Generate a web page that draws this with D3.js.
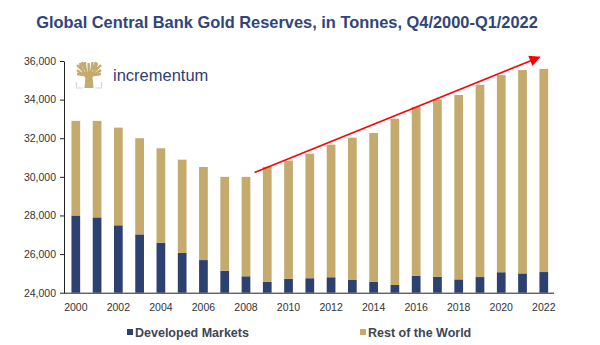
<!DOCTYPE html>
<html>
<head>
<meta charset="utf-8">
<script src="https://cdn.jsdelivr.net/npm/d3@7"></script>
<style>
  body { margin: 0; background: #fff; }
  svg { display: block; font-family: "Liberation Sans", Arial, sans-serif; }
</style>
</head>
<body>
<div id="chart"></div>
<script>
// data (tonnes)
const years = ["2000", "2001", "2002", "2003", "2004", "2005", "2006", "2007", "2008", "2009", "2010",
  "2011", "2012", "2013", "2014", "2015", "2016", "2017", "2018", "2019", "2020", "2021", "2022"];
const developed = [28000, 27900, 27490, 27020, 26590, 26060, 25690, 25140, 24850, 24570, 24720,
  24750, 24800, 24660, 24570, 24400, 24870, 24830, 24690, 24810, 25060, 25000, 25070];
const restOfWorld = [4900, 5000, 5060, 4980, 4890, 4830, 4820, 4860, 5150, 5950, 6120,
  6450, 6870, 7370, 7700, 8610, 8750, 9170, 9550, 9960, 10210, 10530, 10520];
const yTicks = [24000, 26000, 28000, 30000, 32000, 34000, 36000];
const xLabels = ["2000", "2002", "2004", "2006", "2008", "2010", "2012", "2014", "2016", "2018", "2020", "2022"];
const seriesNames = ["Developed Markets", "Rest of the World"];
// trend arrow: [year position, tonnes]
const arrowFrom = [2008.4, 30220];
const arrowTo = [2021.8, 36200];

const width = 600, height = 345;
const navy = "#2d4170", gold = "#c4aa6c";

const svg = d3.select("#chart").append("svg")
  .attr("width", width)
  .attr("height", height);

// scales
const x = d3.scaleBand()
  .domain(years)
  .range([64, 555.6])
  .paddingInner(0.59)
  .paddingOuter(0.35);

const y = d3.scaleLinear()
  .domain([24000, 36000])
  .range([292.7, 61]);

const xc = d3.scaleLinear()
  .domain([2000, 2022])
  .range([x("2000") + x.bandwidth() / 2, x("2022") + x.bandwidth() / 2]);

// title
svg.append("text")
  .attr("x", 287)
  .attr("y", 28)
  .attr("text-anchor", "middle")
  .attr("fill", "#31457a")
  .style("font-size", "16.4px")
  .style("font-weight", "bold")
  .text("Global Central Bank Gold Reserves, in Tonnes, Q4/2000-Q1/2022");

// bars
const rows = years.map((yr, i) => ({ year: yr, dev: developed[i], rest: restOfWorld[i] }));

svg.append("g").selectAll("rect.dev")
  .data(rows)
  .join("rect")
  .attr("x", d => x(d.year))
  .attr("width", x.bandwidth())
  .attr("y", d => y(d.dev))
  .attr("height", d => y(24000) - y(d.dev))
  .attr("fill", navy);

svg.append("g").selectAll("rect.rest")
  .data(rows)
  .join("rect")
  .attr("x", d => x(d.year))
  .attr("width", x.bandwidth())
  .attr("y", d => y(d.dev + d.rest))
  .attr("height", d => y(d.dev) - y(d.dev + d.rest))
  .attr("fill", gold);

// axes
const yAxis = svg.append("g")
  .attr("transform", "translate(64,0)")
  .call(d3.axisLeft(y).tickValues(yTicks).tickSize(4).tickSizeOuter(0).tickFormat(d3.format(",")));
yAxis.select(".domain").attr("stroke", "#222");
yAxis.selectAll(".tick line").attr("stroke", "#222");
yAxis.selectAll("text")
  .attr("x", -8)
  .attr("fill", "#333")
  .style("font-size", "10.5px")
  .style("font-family", "'Liberation Sans', Arial, sans-serif");

const xAxis = svg.append("g")
  .attr("transform", `translate(0,${y(24000)})`)
  .call(d3.axisBottom(x).tickValues(xLabels).tickSize(0).tickSizeOuter(0));
xAxis.select(".domain").attr("stroke", "#222").attr("d", "M64,0.5H554");
xAxis.selectAll("text")
  .attr("y", 11)
  .attr("fill", "#333")
  .style("font-size", "10.5px")
  .style("font-family", "'Liberation Sans', Arial, sans-serif");

// trend arrow
svg.append("defs").append("marker")
  .attr("id", "head")
  .attr("viewBox", "0 0 10 10")
  .attr("refX", 9)
  .attr("refY", 5)
  .attr("markerUnits", "userSpaceOnUse")
  .attr("markerWidth", 12)
  .attr("markerHeight", 11)
  .attr("orient", "auto")
  .append("path")
  .attr("d", "M0,0L10,5L0,10Z")
  .attr("fill", "#ff0000");

svg.append("line")
  .attr("x1", xc(arrowFrom[0]))
  .attr("y1", y(arrowFrom[1]))
  .attr("x2", xc(arrowTo[0]))
  .attr("y2", y(arrowTo[1]))
  .attr("stroke", "#ff0000")
  .attr("stroke-width", 1.6)
  .attr("marker-end", "url(#head)");

// logo: stylised tree
const logo = svg.append("g").attr("transform", "translate(76,62)");
logo.append("path")
  .attr("d", "M10.5,24 L11,15 C8,13 4,11 1,8 M11,15 C7,11 5,6 4,1 M11,15 C10,10 9,5 9,0 M15,24 L14.5,15 C17,13 21,11 25,8 M14.5,15 C18,11 20,6 21,1 M14.5,15 C15,10 16,5 16.5,0 M12.7,15 L12.7,1 M1,3 L7,9 M25,3 L19,9 M1,12 L8,13 M25,12 L18,13 M6,0 L9,8 M20,0 L17,8")
  .attr("fill", "none")
  .attr("stroke", gold)
  .attr("stroke-width", 2.4);
logo.append("path")
  .attr("d", "M9.5,15 L16.5,15 L17.5,26 L8.5,26 Z")
  .attr("fill", gold);
logo.append("path")
  .attr("d", "M0.5,20 L0.5,26 L7,26 M25.5,20 L25.5,26 L19,26")
  .attr("fill", "none")
  .attr("stroke", "#d8d8d8")
  .attr("stroke-width", 1.2);
svg.append("text")
  .attr("x", 113)
  .attr("y", 80.5)
  .attr("fill", "#2f4170")
  .style("font-size", "16.5px")
  .style("font-weight", "500")
  .text("incrementum");

// legend
const legend = svg.append("g");
const legendX = [127, 360];
seriesNames.forEach((name, i) => {
  legend.append("rect")
    .attr("x", legendX[i])
    .attr("y", 329)
    .attr("width", 6)
    .attr("height", 6)
    .attr("fill", i === 0 ? navy : gold);
  legend.append("text")
    .attr("x", legendX[i] + 8)
    .attr("y", 336.5)
    .attr("fill", "#3c4657")
    .style("font-size", "12.5px")
    .style("font-weight", "bold")
    .text(name);
});
</script>
</body>
</html>
